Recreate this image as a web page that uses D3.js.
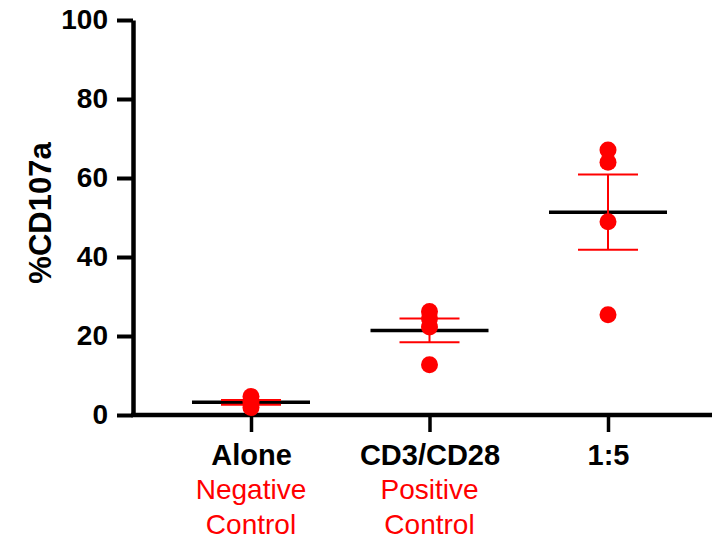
<!DOCTYPE html>
<html>
<head>
<meta charset="utf-8">
<script src="https://cdn.jsdelivr.net/npm/d3@7"></script>
<style>
  body { margin: 0; background: #fff; }
  svg { display: block; font-family: "Liberation Sans", Arial, sans-serif; }
</style>
</head>
<body>
<div id="chart"></div>
<script>
// groups on the x axis and their sub labels
var groups = ["Alone", "CD3/CD28", "1:5"];
var subLabels = [["Negative", "Control"], ["Positive", "Control"], []];

// %CD107a replicates per group
var aloneVals = [4.7, 3.5, 2.7, 1.9];
var cd3cd28Vals = [26.2, 24.4, 22.3, 12.7];
var ratioVals = [67.1, 64.0, 48.9, 25.4];
var allVals = [aloneVals, cd3cd28Vals, ratioVals];

var yTicks = [0, 20, 40, 60, 80, 100];

var width = 712, height = 540;

var svg = d3.select("#chart")
  .append("svg")
    .attr("width", width)
    .attr("height", height);

// scales
var x = d3.scalePoint()
  .domain(groups)
  .range([251, 608]);

var y = d3.scaleLinear()
  .domain([0, 100])
  .range([415, 20]);

// y axis
var yAxis = svg.append("g")
  .attr("transform", "translate(133,0)")
  .call(d3.axisLeft(y).tickValues(yTicks).tickSize(16).tickSizeOuter(0).tickPadding(9));
yAxis.select(".domain").attr("stroke-width", 4.5).attr("stroke", "#000");
yAxis.selectAll(".tick line").attr("stroke-width", 4).attr("stroke", "#000");
yAxis.selectAll(".tick text")
  .attr("font-size", "28px")
  .attr("font-weight", "bold")
  .attr("font-family", "Liberation Sans, Arial, sans-serif")
  .attr("fill", "#000");

// x axis, baseline drawn by hand so it runs to the edge
var xAxis = svg.append("g")
  .attr("transform", "translate(0,415)")
  .call(d3.axisBottom(x).tickSize(17).tickPadding(12));
xAxis.select(".domain").remove();
xAxis.selectAll(".tick line").attr("stroke-width", 3.5).attr("stroke", "#000");
xAxis.selectAll(".tick text")
  .attr("font-size", "29px")
  .attr("font-weight", "bold")
  .attr("font-family", "Liberation Sans, Arial, sans-serif")
  .attr("fill", "#000");

svg.append("line")
  .attr("x1", 131)
  .attr("x2", width)
  .attr("y1", y(0))
  .attr("y2", y(0))
  .attr("stroke", "#000")
  .attr("stroke-width", 4.5);

// red sub labels under the group names
groups.forEach(function(g, i) {
  subLabels[i].forEach(function(t, j) {
    svg.append("text")
      .attr("x", x(g))
      .attr("y", 499 + j * 35)
      .attr("text-anchor", "middle")
      .attr("font-size", "28px")
      .attr("fill", "#ff0000")
      .text(t);
  });
});

// y axis title
svg.append("text")
  .attr("transform", "translate(51,213) rotate(-90)")
  .attr("text-anchor", "middle")
  .attr("font-size", "31px")
  .attr("font-weight", "bold")
  .attr("fill", "#000")
  .text("%CD107a");

// mean and SEM per group
var stats = groups.map(function(g, i) {
  var v = allVals[i];
  var m = d3.mean(v);
  var sem = d3.deviation(v) / Math.sqrt(v.length);
  return {group: g, mean: m, sem: sem};
});

// mean lines
svg.selectAll(".mean")
  .data(stats)
  .enter()
  .append("line")
    .attr("x1", function(d) { return x(d.group) - 59; })
    .attr("x2", function(d) { return x(d.group) + 59; })
    .attr("y1", function(d) { return y(d.mean); })
    .attr("y2", function(d) { return y(d.mean); })
    .attr("stroke", "#000")
    .attr("stroke-width", 3.5);

// error bars
var err = svg.selectAll(".err")
  .data(stats)
  .enter()
  .append("g")
    .attr("stroke", "#ff0000")
    .attr("stroke-width", 2);

err.append("line")
  .attr("x1", function(d) { return x(d.group); })
  .attr("x2", function(d) { return x(d.group); })
  .attr("y1", function(d) { return y(d.mean + d.sem); })
  .attr("y2", function(d) { return y(d.mean - d.sem); });

err.append("line")
  .attr("x1", function(d) { return x(d.group) - 30; })
  .attr("x2", function(d) { return x(d.group) + 30; })
  .attr("y1", function(d) { return y(d.mean + d.sem); })
  .attr("y2", function(d) { return y(d.mean + d.sem); });

err.append("line")
  .attr("x1", function(d) { return x(d.group) - 30; })
  .attr("x2", function(d) { return x(d.group) + 30; })
  .attr("y1", function(d) { return y(d.mean - d.sem); })
  .attr("y2", function(d) { return y(d.mean - d.sem); });

// points
var pts = [];
groups.forEach(function(g, i) {
  allVals[i].forEach(function(v) { pts.push({group: g, value: v}); });
});

svg.selectAll(".dot")
  .data(pts)
  .enter()
  .append("circle")
    .attr("cx", function(d) { return x(d.group); })
    .attr("cy", function(d) { return y(d.value); })
    .attr("r", 8.5)
    .attr("fill", "#ff0000");
</script>
</body>
</html>
